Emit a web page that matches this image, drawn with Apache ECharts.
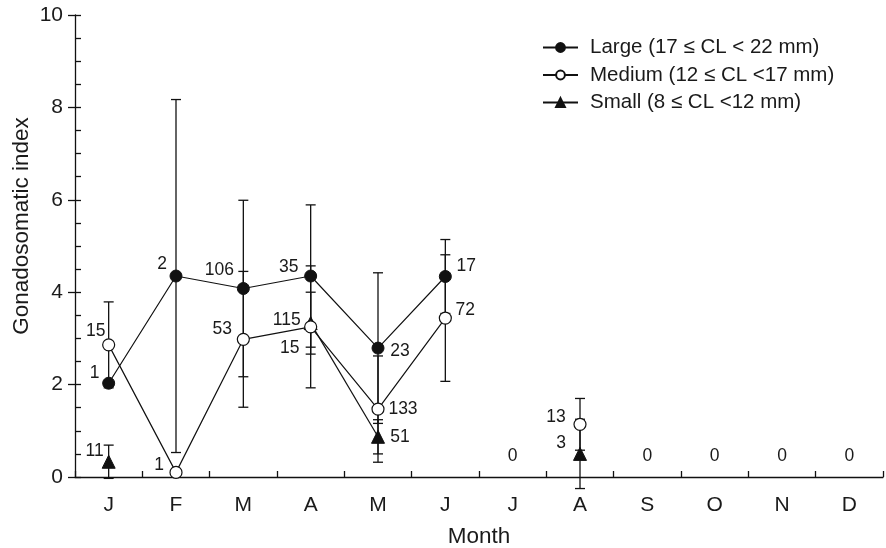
<!DOCTYPE html>
<html>
<head>
<meta charset="utf-8">
<script src="https://cdn.jsdelivr.net/npm/echarts@6/dist/echarts.min.js"></script>
<style>html,body{margin:0;padding:0;background:#fff;}#c{width:886px;height:548px;}</style>
</head>
<body>
<div id="c"></div>
<script>
// ---- data ----
const months = ['J','F','M','A','M','J','J','A','S','O','N','D'];
const yTicks = [0, 2, 4, 6, 8, 10];
const seriesNames = ['Large (17 \u2264 CL < 22 mm)', 'Medium (12 \u2264 CL <17 mm)', 'Small (8 \u2264 CL <12 mm)'];
const xTitle = 'Month';
const yTitle = 'Gonadosomatic index';

const largeMean = [2.03, 4.35, 4.08, 4.35, 2.79, 4.34, null, null, null, null, null, null];
const largeSD   = [null, 3.82, 1.91, 1.54, 1.63, 0.80, null, null, null, null, null, null];
const largeN    = [1, 2, 106, 35, 23, 17, null, null, null, null, null, null];

const mediumMean = [2.86, 0.10, 2.98, 3.25, 1.47, 3.44, null, 1.14, null, null, null, null];
const mediumSD   = [0.93, null, 1.47, 1.32, 1.15, 1.37, null, 0.56, null, null, null, null];
const mediumN    = [15, 1, 53, 115, 133, 72, null, 13, null, null, null, null];

const smallMean = [0.33, null, null, 3.33, 0.87, null, null, 0.50, null, null, null, null];
const smallSD   = [0.36, null, null, 0.67, 0.37, null, null, 0.75, null, null, null, null];
const smallN    = [11, null, null, 15, 51, null, null, 3, null, null, null, null];

// months with no specimens (n = 0)
const zeroN = [null, null, null, null, null, null, 0, null, 0, 0, 0, 0];

// ---- label placement (styling, pixel offsets from the marker centre) ----
const largeOff  = [[-14,-10],[-14,-12],[-24,-18],[-22,-9],[22,3],[21,-10]];
const mediumOff = [[-13,-14],[-17,-7],[-21,-10],[-24,-7],[25,0],[20,-8],null,[-24,-7]];
const smallOff  = [[-14,-11],null,null,[-21,25],[22,0],null,null,[-19,-11]];

const FONT = "'Liberation Sans', Arial, Helvetica, sans-serif";
const TXT = '#1a1a1a';
const LBL = 17.5;

function pointData(mean, ns, offs) {
  return mean.map((v, i) => {
    if (v == null) return null;
    const o = offs[i] || [0, 0];
    return {
      value: v,
      label: {
        show: true, position: 'inside', offset: o,
        formatter: String(ns[i]), color: TXT, fontSize: LBL, fontFamily: FONT
      }
    };
  });
}
function errData(mean, sd) {
  const out = [];
  mean.forEach((v, i) => { if (v != null && sd[i] != null) out.push([i, v - sd[i], v + sd[i]]); });
  return out;
}
function errSeries(mean, sd) {
  return {
    type: 'custom', z: 1, silent: true, clip: false,
    data: errData(mean, sd),
    encode: { x: 0, y: [1, 2] },
    renderItem: function (params, api) {
      const i = api.value(0);
      const lo = api.coord([i, api.value(1)]);
      const hi = api.coord([i, api.value(2)]);
      const w = 5;
      const st = { stroke: '#111', lineWidth: 1.3 };
      return {
        type: 'group',
        children: [
          { type: 'line', shape: { x1: lo[0], y1: lo[1], x2: hi[0], y2: hi[1] }, style: st },
          { type: 'line', shape: { x1: lo[0] - w, y1: lo[1], x2: lo[0] + w, y2: lo[1] }, style: st },
          { type: 'line', shape: { x1: hi[0] - w, y1: hi[1], x2: hi[0] + w, y2: hi[1] }, style: st }
        ]
      };
    }
  };
}

const chart = echarts.init(document.getElementById('c'), null, { renderer: 'canvas' });

const option = {
  animation: false,
  backgroundColor: '#fff',
  textStyle: { fontFamily: FONT, color: TXT },
  grid: { left: 75, right: 3, top: 15, bottom: 71, containLabel: false, outerBoundsMode: 'none' },
  legend: {
    orient: 'vertical', left: 537, top: 32, itemWidth: 35, itemHeight: 11, itemGap: 6.5,
    data: seriesNames,
    textStyle: { fontSize: 20.5, color: TXT, fontFamily: FONT, padding: [0, 0, 0, 7] }
  },
  graphic: [
    {
      type: 'text', x: 22, y: 226, rotation: Math.PI / 2, silent: true,
      style: { text: yTitle, fontSize: 22.5, fill: TXT, fontFamily: FONT, align: 'center', verticalAlign: 'middle' }
    }
  ],
  xAxis: {
    type: 'category', data: months, boundaryGap: true,
    axisLine: { show: true, lineStyle: { color: '#111', width: 1.3 } },
    axisTick: { show: true, inside: true, length: 6, lineStyle: { color: '#111', width: 1.3 } },
    axisLabel: { color: TXT, fontSize: 21, margin: 18, fontFamily: FONT },
    name: xTitle, nameLocation: 'middle', nameGap: 48,
    nameTextStyle: { fontSize: 22.5, color: TXT, fontFamily: FONT },
    splitLine: { show: false }
  },
  yAxis: [
    {
      type: 'value', min: 0, max: 10, interval: 2,
      axisLine: { show: true, lineStyle: { color: '#111', width: 1.3 } },
      axisTick: { show: true, inside: false, length: 7, lineStyle: { color: '#111', width: 1.3 } },
      axisLabel: {
        color: TXT, fontSize: 21, margin: 12, fontFamily: FONT,
        formatter: v => (yTicks.indexOf(v) >= 0 ? String(v) : '')
      },
      splitLine: { show: false }
    },
    {
      type: 'value', min: 0, max: 10, interval: 0.5, position: 'left',
      axisLine: { show: false },
      axisTick: { show: true, inside: true, length: 6, lineStyle: { color: '#111', width: 1.3 } },
      axisLabel: { show: false },
      splitLine: { show: false }
    }
  ],
  series: [
    errSeries(largeMean, largeSD),
    errSeries(mediumMean, mediumSD),
    errSeries(smallMean, smallSD),
    {
      name: seriesNames[0], type: 'line', z: 3,
      data: pointData(largeMean, largeN, largeOff),
      symbol: 'circle', symbolSize: 12, showAllSymbol: true,
      lineStyle: { color: '#111', width: 1.2 },
      itemStyle: { color: '#111', borderColor: '#111', borderWidth: 1 }
    },
    {
      name: seriesNames[1], type: 'line', z: 4,
      data: pointData(mediumMean, mediumN, mediumOff),
      symbol: 'circle', symbolSize: 12, showAllSymbol: true,
      lineStyle: { color: '#111', width: 1.2 },
      itemStyle: { color: '#fff', borderColor: '#111', borderWidth: 1.2 }
    },
    {
      name: seriesNames[2], type: 'line', z: 2,
      data: pointData(smallMean, smallN, smallOff),
      symbol: 'triangle', symbolSize: 13, showAllSymbol: true,
      lineStyle: { color: '#111', width: 1.2 },
      itemStyle: { color: '#111', borderColor: '#111', borderWidth: 1 }
    },
    {
      type: 'scatter', z: 5, silent: true,
      data: zeroN.map(v => (v == null ? null : {
        value: v,
        label: { show: true, position: 'inside', offset: [0, -21], formatter: String(v), color: TXT, fontSize: LBL, fontFamily: FONT }
      })),
      symbolSize: 0.01, itemStyle: { color: '#111', opacity: 1 }
    }
  ]
};
chart.setOption(option);
</script>
</body>
</html>
